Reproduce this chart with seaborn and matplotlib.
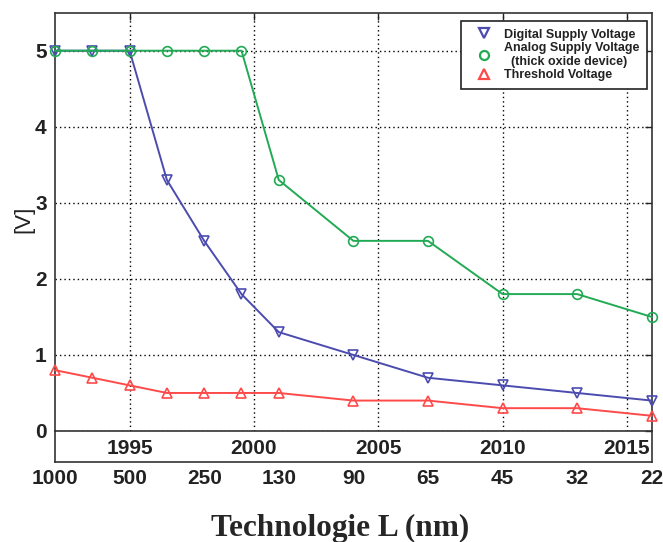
import numpy as np
import pandas as pd
import seaborn as sns
import matplotlib
matplotlib.use("Agg")
from matplotlib import pyplot as plt
from matplotlib.lines import Line2D

# Data
years = [1992, 1993.5, 1995, 1996.5, 1998, 1999.5, 2001, 2004, 2007, 2010, 2013, 2016]
digital = [5.0, 5.0, 5.0, 3.3, 2.5, 1.8, 1.3, 1.0, 0.7, 0.6, 0.5, 0.4]
analog = [5.0, 5.0, 5.0, 5.0, 5.0, 5.0, 3.3, 2.5, 2.5, 1.8, 1.8, 1.5]
threshold = [0.8, 0.7, 0.6, 0.5, 0.5, 0.5, 0.5, 0.4, 0.4, 0.3, 0.3, 0.2]
node_labels = ["1000", "", "500", "", "250", "", "130", "90", "65", "45", "32", "22"]
year_ticks = [1995, 2000, 2005, 2010, 2015]
y_ticks = [0, 1, 2, 3, 4, 5]
series_names = ["Digital Supply Voltage",
                "Analog Supply Voltage\n  (thick oxide device)",
                "Threshold Voltage"]

sns.set_theme(style="white")
plt.rcParams["font.family"] = ["Liberation Sans", "DejaVu Sans"]

blue = "#4b4bb0"
green = "#22aa55"
red = "#ff4a4a"

fig = plt.figure(figsize=(6.63, 5.42), dpi=100)
ax = fig.add_axes([0.083, 0.2048, 0.9, 0.7718])
ax2 = fig.add_axes([0.083, 0.1476, 0.9, 0.0572])
ax2.set_facecolor("none")

df = pd.DataFrame({"year": years, "digital": digital,
                   "analog": analog, "threshold": threshold})

styles = [("digital", blue, "v"), ("analog", green, "o"), ("threshold", red, "^")]
for col, c, m in styles:
    sns.lineplot(data=df, x="year", y=col, ax=ax, color=c, lw=1.4,
                 marker=m, markersize=7, markerfacecolor="none",
                 markeredgecolor=c, markeredgewidth=1.2, legend=False,
                 clip_on=False, zorder=3)

ax.set_xlim(1992, 2016)
ax.set_ylim(0, 5.5)
ax.set_xticks(year_ticks)
ax.set_yticks(y_ticks)
ax.set_xlabel("")
ax.set_ylabel("")
ax.set_axisbelow(True)
ax.grid(True, linestyle=(0, (1, 2.2)), color="black", lw=1.0)
ax.tick_params(direction="in", top=True, right=True, length=5, width=1,
               labelsize=15, pad=6, colors="#222222")
for lab in ax.get_xticklabels() + ax.get_yticklabels():
    lab.set_fontweight("bold")
for s in ax.spines.values():
    s.set_color("#333333")
    s.set_linewidth(1.2)
    s.set_visible(True)

# second axis with technology nodes
ax2.set_xlim(1992, 2016)
ax2.set_ylim(0, 1)
ax2.set_xticks(years)
ax2.set_xticklabels(node_labels)
ax2.set_yticks([])
ax2.tick_params(axis="x", direction="in", length=5, width=1,
                labelsize=15, pad=5, colors="#222222")
for lab in ax2.get_xticklabels():
    lab.set_fontweight("bold")
ax2.spines["top"].set_visible(False)
for k in ["left", "right", "bottom"]:
    ax2.spines[k].set_color("#333333")
    ax2.spines[k].set_linewidth(1.2)
    ax2.spines[k].set_visible(True)

handles = [Line2D([], [], linestyle="none", marker=m, markersize=6.5,
                  markerfacecolor="none", markeredgecolor=c, markeredgewidth=1.6)
           for _, c, m in styles]
leg = ax.legend(handles, series_names, loc="upper right",
                bbox_to_anchor=(0.9916, 0.980), borderaxespad=0,
                fontsize=9, labelspacing=0.12, handlelength=2.5,
                handletextpad=0.3, borderpad=0.6, fancybox=False,
                framealpha=1, edgecolor="#222222")
leg.get_frame().set_linewidth(1.2)
leg.set_zorder(5)
for t in leg.get_texts():
    t.set_fontweight("bold")
    t.set_color("#222222")

fig.text(0.036, 0.596, "[V]", rotation=90, ha="center", va="center",
         fontsize=16, color="#222222")
fig.text(0.513, 0.0116, "Technologie L (nm)", ha="center", va="baseline",
         fontsize=22.5, fontweight="bold", family=["Liberation Serif", "DejaVu Serif"])

fig.savefig("out.png", dpi=100)
